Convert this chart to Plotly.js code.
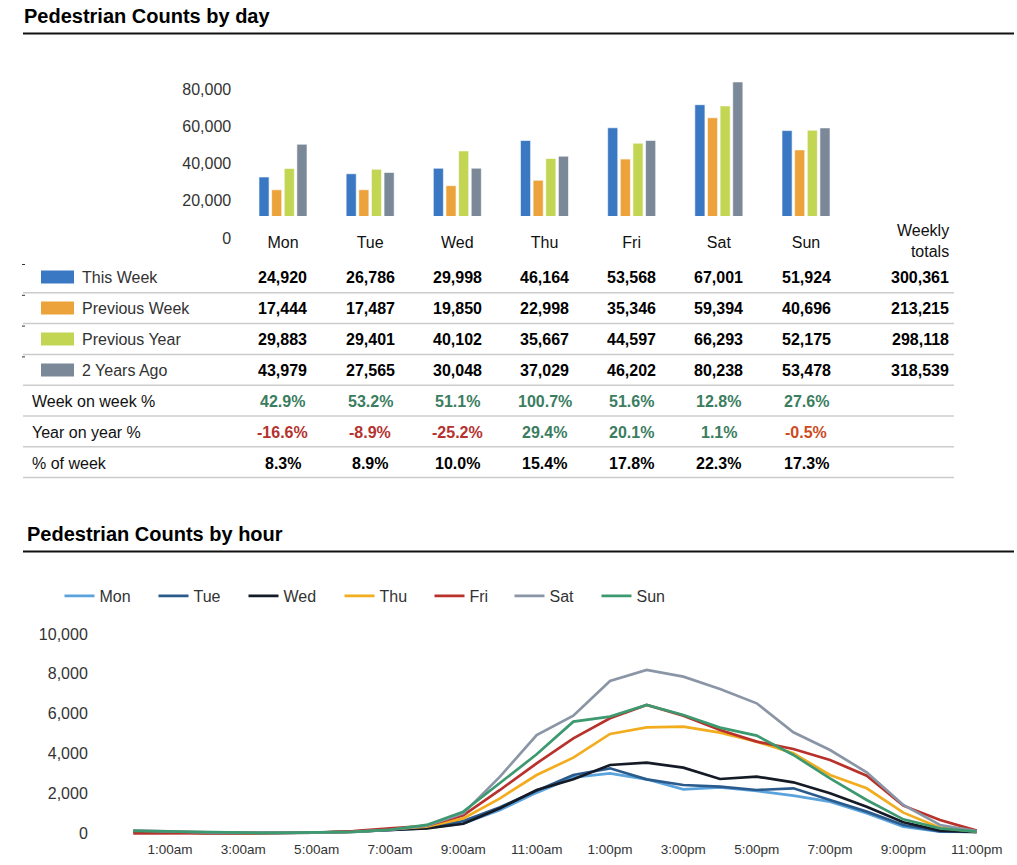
<!DOCTYPE html>
<html><head><meta charset="utf-8">
<script src="https://cdn.plot.ly/plotly-3.0.1.min.js"></script>
<style>html,body{margin:0;padding:0;background:#fff}#chart{width:1017px;height:865px}</style>
</head><body><div id="chart"></div>
<script>
// ---------------- data ----------------
const days = ['Mon', 'Tue', 'Wed', 'Thu', 'Fri', 'Sat', 'Sun'];
const seriesNames = ['This Week', 'Previous Week', 'Previous Year', '2 Years Ago'];
const thisWeek     = [24920, 26786, 29998, 46164, 53568, 67001, 51924];
const previousWeek = [17444, 17487, 19850, 22998, 35346, 59394, 40696];
const previousYear = [29883, 29401, 40102, 35667, 44597, 66293, 52175];
const twoYearsAgo  = [43979, 27565, 30048, 37029, 46202, 80238, 53478];
const weeklyTotals = [300361, 213215, 298118, 318539];
const weekOnWeek   = [42.9, 53.2, 51.1, 100.7, 51.6, 12.8, 27.6];
const yearOnYear   = [-16.6, -8.9, -25.2, 29.4, 20.1, 1.1, -0.5];
const pctOfWeek    = [8.3, 8.9, 10.0, 15.4, 17.8, 22.3, 17.3];
const barTicks     = [0, 20000, 40000, 60000, 80000];

const hours = ['12:00am','1:00am','2:00am','3:00am','4:00am','5:00am','6:00am','7:00am','8:00am','9:00am','10:00am','11:00am',
               '12:00pm','1:00pm','2:00pm','3:00pm','4:00pm','5:00pm','6:00pm','7:00pm','8:00pm','9:00pm','10:00pm','11:00pm'];
const hourTicks = ['1:00am','3:00am','5:00am','7:00am','9:00am','11:00am','1:00pm','3:00pm','5:00pm','7:00pm','9:00pm','11:00pm'];
const lineTicks = [0, 2000, 4000, 6000, 8000, 10000];
const hourlyMon = [80, 40, 25, 15, 15, 30, 80, 180, 260, 500, 1171, 2040, 2809, 3010, 2709, 2207, 2308, 2124, 1890, 1589, 1003, 334, 84, 67];
const hourlyTue = [70, 35, 20, 15, 15, 30, 90, 190, 290, 620, 1304, 2140, 2926, 3261, 2709, 2425, 2341, 2174, 2258, 1672, 1087, 418, 100, 67];
const hourlyWed = [70, 35, 20, 15, 15, 30, 80, 170, 250, 480, 1254, 2174, 2709, 3428, 3545, 3294, 2726, 2843, 2559, 2007, 1338, 552, 134, 67];
const hourlyThu = [80, 40, 25, 15, 15, 30, 90, 200, 330, 750, 1756, 2926, 3796, 4983, 5318, 5351, 5050, 4599, 4013, 2926, 2258, 1037, 284, 84];
const hourlyFri = [0, 0, 30, 20, 15, 40, 110, 250, 380, 900, 2174, 3512, 4766, 5769, 6438, 5903, 5184, 4599, 4231, 3679, 2893, 1388, 669, 134];
const hourlySat = [150, 90, 50, 30, 20, 30, 70, 170, 380, 1000, 2843, 4933, 5903, 7642, 8194, 7860, 7241, 6522, 5067, 4181, 3060, 1421, 418, 117];
const hourlySun = [120, 80, 50, 30, 20, 30, 70, 180, 420, 1087, 2508, 3963, 5602, 5853, 6438, 5936, 5301, 4900, 3930, 2759, 1672, 702, 251, 84];

// ---------------- styles ----------------
const W = 1017, H = 865;
const fx = p => p / W, fy = p => 1 - p / H;
const FONT = 'Liberation Sans, Arial, Helvetica, sans-serif';
const barColors = ['#3b78c3', '#eca33b', '#c3d654', '#7a8898'];
const lineColors = ['#5ba3dc', '#2b5b8c', '#151b26', '#f2ad1e', '#b8312b', '#8a96a6', '#3d9970'];
const legendWidths = [49, 45, 51, 45, 35, 42, 40];
const GREEN = '#3b7d5f', RED = '#b5322f', ORANGE = '#cd4b21';

const barSeries = [thisWeek, previousWeek, previousYear, twoYearsAgo];
const hourly = [hourlyMon, hourlyTue, hourlyWed, hourlyThu, hourlyFri, hourlySat, hourlySun];

const traces = [];
barSeries.forEach((vals, k) => {
  traces.push({type: 'bar', x: days, y: vals, name: seriesNames[k], xaxis: 'x', yaxis: 'y',
    marker: {color: barColors[k], line: {color: 'rgba(255,255,255,0.6)', width: 1}},
    showlegend: false, hoverinfo: 'x+y+name'});
});
traces.push({type: 'scatter', mode: 'lines', x: [], y: [], xaxis: 'x3', yaxis: 'y3', showlegend: false, hoverinfo: 'skip'});
hourly.forEach((vals, d) => {
  traces.push({type: 'scatter', mode: 'lines', x: hours, y: vals, name: days[d], xaxis: 'x2', yaxis: 'y2',
    line: {color: lineColors[d], width: 2.7}, legendwidth: legendWidths[d]});
});

// ---------------- table / decorations ----------------
const fmt = v => v.toLocaleString('en-US');
const pct = v => v.toFixed(1) + '%';
const shapes = [];
const annotations = [];
const rowY = k => 277 + 31 * k;
const sepY = k => 292.8 + 30.8 * k;

// titles and rules
annotations.push({text: '<b>Pedestrian Counts by day</b>', xref: 'paper', yref: 'paper', x: fx(22), y: fy(16),
  xanchor: 'left', yanchor: 'middle', showarrow: false, font: {size: 20, color: '#000'}});
annotations.push({text: '<b>Pedestrian Counts by hour</b>', xref: 'paper', yref: 'paper', x: fx(25), y: fy(534),
  xanchor: 'left', yanchor: 'middle', showarrow: false, font: {size: 20, color: '#000'}});
shapes.push({type: 'line', xref: 'paper', yref: 'paper', x0: fx(23), x1: fx(1014), y0: fy(33.5), y1: fy(33.5), line: {color: '#111', width: 2}});
shapes.push({type: 'line', xref: 'paper', yref: 'paper', x0: fx(23), x1: fx(1014), y0: fy(551.5), y1: fy(551.5), line: {color: '#111', width: 2}});

// header
annotations.push({text: 'Weekly<br>totals', xref: 'paper', yref: 'paper', x: fx(951), y: fy(241.5),
  xanchor: 'right', yanchor: 'middle', align: 'right', showarrow: false, font: {size: 16, color: '#111'}});

// separators
for (let k = 0; k < 7; k++) {
  shapes.push({type: 'line', xref: 'paper', yref: 'paper', x0: fx(23), x1: fx(954), y0: fy(sepY(k)), y1: fy(sepY(k)),
    line: {color: '#cccccc', width: 1.5}});
}
for (let k = 0; k < 4; k++) {
  shapes.push({type: 'line', xref: 'paper', yref: 'paper', x0: fx(22), x1: fx(25), y0: fy(264.5 + 30.8 * k), y1: fy(264.5 + 30.8 * k),
    line: {color: '#333', width: 1}});
}

// series rows
barSeries.forEach((vals, k) => {
  const y = rowY(k);
  shapes.push({type: 'rect', xref: 'paper', yref: 'paper', x0: fx(41), x1: fx(74), y0: fy(y - 6.5), y1: fy(y + 6.5),
    fillcolor: barColors[k], line: {width: 0}});
  annotations.push({text: seriesNames[k], xref: 'paper', yref: 'paper', x: fx(80), y: fy(y), xanchor: 'left', yanchor: 'middle',
    showarrow: false, font: {size: 16, color: '#333'}});
  vals.forEach((v, i) => {
    annotations.push({text: '<b>' + fmt(v) + '</b>', xref: 'x', yref: 'paper', x: days[i], y: fy(y), xanchor: 'center', yanchor: 'middle',
      showarrow: false, font: {size: 16, color: '#000'}});
  });
  annotations.push({text: '<b>' + fmt(weeklyTotals[k]) + '</b>', xref: 'paper', yref: 'paper', x: fx(951), y: fy(y), xanchor: 'right', yanchor: 'middle',
    showarrow: false, font: {size: 16, color: '#000'}});
});

// percentage rows
const pctRows = [
  {label: 'Week on week %', vals: weekOnWeek, color: v => (v < 0 ? RED : GREEN)},
  {label: 'Year on year %', vals: yearOnYear, color: v => (v < -5 ? RED : (v < 0 ? ORANGE : GREEN))},
  {label: '% of week', vals: pctOfWeek, color: () => '#000'}
];
pctRows.forEach((row, r) => {
  const y = rowY(4 + r);
  annotations.push({text: row.label, xref: 'paper', yref: 'paper', x: fx(30), y: fy(y), xanchor: 'left', yanchor: 'middle',
    showarrow: false, font: {size: 16, color: '#111'}});
  row.vals.forEach((v, i) => {
    annotations.push({text: '<b>' + pct(v) + '</b>', xref: 'x', yref: 'paper', x: days[i], y: fy(y), xanchor: 'center', yanchor: 'middle',
      showarrow: false, font: {size: 16, color: row.color(v)}});
  });
});

const layout = {
  width: W, height: H,
  margin: {l: 0, r: 0, t: 0, b: 0, autoexpand: false},
  paper_bgcolor: '#fff', plot_bgcolor: 'rgba(0,0,0,0)',
  font: {family: FONT, size: 16, color: '#333'},
  barmode: 'group', bargap: 0.42, bargroupgap: 0.2,
  xaxis: {domain: [fx(239.4), fx(849.6)], anchor: 'y', type: 'category', range: [-0.5, 6.5],
    showgrid: false, zeroline: false, showline: false, ticks: 'outside', ticklen: 12, tickcolor: 'rgba(0,0,0,0)',
    tickfont: {size: 16, color: '#111'}, fixedrange: true},
  yaxis: {domain: [fy(216), fy(70)], anchor: 'x', range: [2200, 87200], visible: false, fixedrange: true},
  xaxis3: {domain: [fx(239.4), fx(849.6)], anchor: 'y3', range: [0, 1], visible: false, fixedrange: true},
  yaxis3: {domain: [fy(238), fy(89)], anchor: 'x3', range: [0, 80000], tickvals: barTicks, tickformat: ',',
    showgrid: false, zeroline: false, showline: false, ticks: 'outside', ticklen: 4, tickcolor: 'rgba(0,0,0,0)',
    tickfont: {size: 16, color: '#333'}, fixedrange: true},
  xaxis2: {domain: [fx(95), fx(1000)], anchor: 'y2', type: 'category', range: [-1.044, 23.635], tickvals: hourTicks,
    showgrid: false, zeroline: false, showline: false, ticks: '', tickangle: 0,
    tickfont: {size: 13.5, color: '#333'}, fixedrange: true},
  yaxis2: {domain: [fy(839.3), fy(628)], anchor: 'x2', range: [-300, 10300], tickvals: lineTicks, tickformat: ',',
    showgrid: false, zeroline: false, showline: false, ticks: 'outside', ticklen: 3, tickcolor: 'rgba(0,0,0,0)',
    tickfont: {size: 16, color: '#333'}, fixedrange: true},
  showlegend: true,
  legend: {orientation: 'h', x: fx(59.5), xanchor: 'left', y: fy(596), yanchor: 'middle',
    font: {size: 16, color: '#333'}, bgcolor: 'rgba(0,0,0,0)', traceorder: 'normal', itemclick: false, itemdoubleclick: false},
  shapes: shapes,
  annotations: annotations
};

Plotly.newPlot('chart', traces, layout, {displayModeBar: false, staticPlot: true});
</script>
</body></html>
